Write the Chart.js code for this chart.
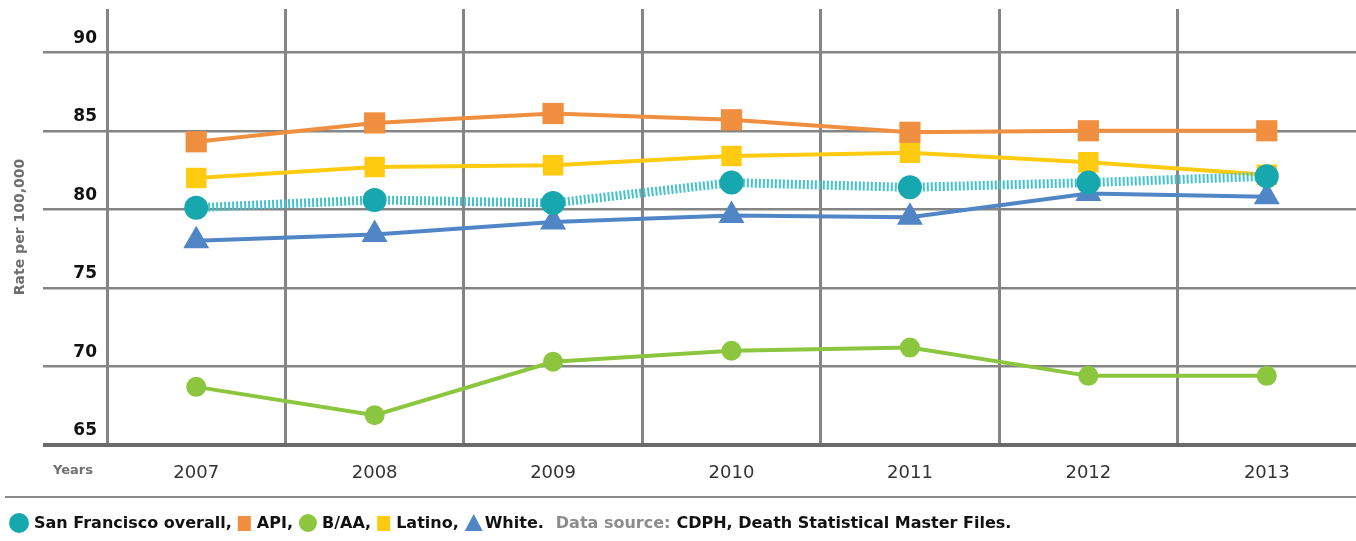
<!DOCTYPE html>
<html>
<head>
<meta charset="utf-8">
<script src="https://cdn.jsdelivr.net/npm/chart.js@4/dist/chart.umd.min.js"></script>
<style>
  html, body { margin: 0; padding: 0; background: #fff; overflow: hidden; }
  canvas { display: block; }
</style>
</head>
<body>
<canvas id="rates" width="1356" height="541"></canvas>
<script>
const years = ["2007", "2008", "2009", "2010", "2011", "2012", "2013"];
const sfOverall = [80.1, 80.6, 80.4, 81.7, 81.4, 81.7, 82.1];
const api = [84.3, 85.5, 86.1, 85.7, 84.9, 85.0, 85.0];
const blackAA = [68.7, 66.9, 70.3, 71.0, 71.2, 69.4, 69.4];
const latino = [82.0, 82.7, 82.8, 83.4, 83.6, 83.0, 82.2];
const white = [78.0, 78.4, 79.2, 79.6, 79.5, 81.0, 80.8];
const yTicks = [65, 70, 75, 80, 85, 90];

const yTitle = "Rate per 100,000";
const xTitle = "Years";
const sourceLabel = "Data source:";
const sourceText = "CDPH, Death Statistical Master Files.";

const gridGray = "#858585";

// legend + "Years" + separator, drawn on the canvas after the chart
const footer = {
  id: "footer",
  afterDraw(chart) {
    const c = chart.ctx;
    c.save();
    c.strokeStyle = "#8a8a8a";
    c.lineWidth = 2;
    c.beginPath();
    c.moveTo(5, 497);
    c.lineTo(1356, 497);
    c.stroke();

    c.fillStyle = "#707070";
    c.font = "bold 13px 'DejaVu Sans'";
    c.textBaseline = "middle";
    c.fillText(xTitle, 53, 471);

    let x = 9;
    const y = 523;
    const items = [
      { text: "San Francisco overall,", ds: 0 },
      { text: "API,", ds: 1 },
      { text: "B/AA,", ds: 2 },
      { text: "Latino,", ds: 3 },
      { text: "White.", ds: 4 },
    ];
    c.font = "bold 16px 'DejaVu Sans'";
    items.forEach((it) => {
      const ds = chart.data.datasets[it.ds];
      c.fillStyle = ds.pointBackgroundColor;
      if (ds.pointStyle === "circle") {
        const r = it.ds === 0 ? 10 : 9;
        c.beginPath();
        c.arc(x + r, y, r, 0, Math.PI * 2);
        c.fill();
        x += 2 * r + 5;
      } else if (ds.pointStyle === "rect") {
        c.fillRect(x, y - 7, 13, 15);
        x += 13 + 6;
      } else {
        c.beginPath();
        c.moveTo(x, y + 8);
        c.lineTo(x + 9, y - 9);
        c.lineTo(x + 18, y + 8);
        c.closePath();
        c.fill();
        x += 18 + 2;
      }
      c.fillStyle = "#111";
      c.fillText(it.text, x, y + 1);
      x += c.measureText(it.text).width + 6;
    });
    x += 6;
    c.fillStyle = "#8c8c8c";
    c.fillText(sourceLabel, x, y + 1);
    x += c.measureText(sourceLabel).width + 6;
    c.fillStyle = "#111";
    c.fillText(sourceText, x, y + 1);
    c.restore();
  },
};

const config = {
  type: "line",
  data: {
    labels: years,
    datasets: [
      {
        label: "San Francisco overall",
        data: sfOverall,
        borderColor: "#44c3cb",
        borderWidth: 9,
        borderDash: [2, 2],
        pointStyle: "circle",
        pointRadius: 12,
        pointBackgroundColor: "#16a8ae",
        pointBorderWidth: 0,
        order: 0,
      },
      {
        label: "API",
        data: api,
        borderColor: "#f08f40",
        borderWidth: 4,
        pointStyle: "rect",
        pointRadius: 15,
        pointBackgroundColor: "#f08f40",
        pointBorderWidth: 0,
        order: 1,
      },
      {
        label: "B/AA",
        data: blackAA,
        borderColor: "#8cc63f",
        borderWidth: 4,
        pointStyle: "circle",
        pointRadius: 10,
        pointBackgroundColor: "#8cc63f",
        pointBorderWidth: 0,
        order: 2,
      },
      {
        label: "Latino",
        data: latino,
        borderColor: "#ffcb10",
        borderWidth: 4,
        pointStyle: "rect",
        pointRadius: 14.5,
        pointBackgroundColor: "#ffcb10",
        pointBorderWidth: 0,
        order: 3,
      },
      {
        label: "White",
        data: white,
        borderColor: "#5186c6",
        borderWidth: 4,
        pointStyle: "triangle",
        pointRadius: 15,
        pointBackgroundColor: "#5186c6",
        pointBorderWidth: 0,
        order: 4,
      },
    ],
  },
  options: {
    responsive: false,
    animation: false,
    layout: { autoPadding: false, padding: { left: 0, right: 0, top: 9, bottom: 0 } },
    elements: { line: { tension: 0 } },
    plugins: {
      legend: { display: false },
      tooltip: { enabled: false },
    },
    scales: {
      x: {
        offset: true,
        grid: {
          offset: true,
          color: (ctx) => (ctx.tick ? gridGray : "rgba(0,0,0,0)"),
          lineWidth: 3,
          drawTicks: false,
        },
        border: { display: false },
        ticks: {
          padding: 18,
          color: "#333",
          font: { family: "DejaVu Sans", size: 18 },
          maxRotation: 0,
        },
        afterFit(scale) { scale.height = 96; },
      },
      y: {
        min: 65,
        max: 92.75,
        afterBuildTicks(scale) {
          scale.ticks = yTicks.map((v) => ({ value: v }));
        },
        grid: {
          color: (ctx) => (ctx.tick && ctx.tick.value === 65 ? "#6a6a6a" : gridGray),
          lineWidth: (ctx) => (ctx.tick && ctx.tick.value === 65 ? 4 : 2.5),
          tickLength: 64,
        },
        border: { display: false },
        ticks: {
          padding: -54,
          labelOffset: -14,
          color: "#111",
          font: { family: "DejaVu Sans", size: 17, weight: "bold" },
        },
        title: {
          display: true,
          text: yTitle,
          color: "#6e6e6e",
          font: { family: "DejaVu Sans", size: 14, weight: "bold" },
          padding: { top: 12, bottom: 0 },
        },
        afterFit(scale) { scale.width = 107; },
      },
    },
  },
  plugins: [footer],
};

new Chart(document.getElementById("rates"), config);
</script>
</body>
</html>
